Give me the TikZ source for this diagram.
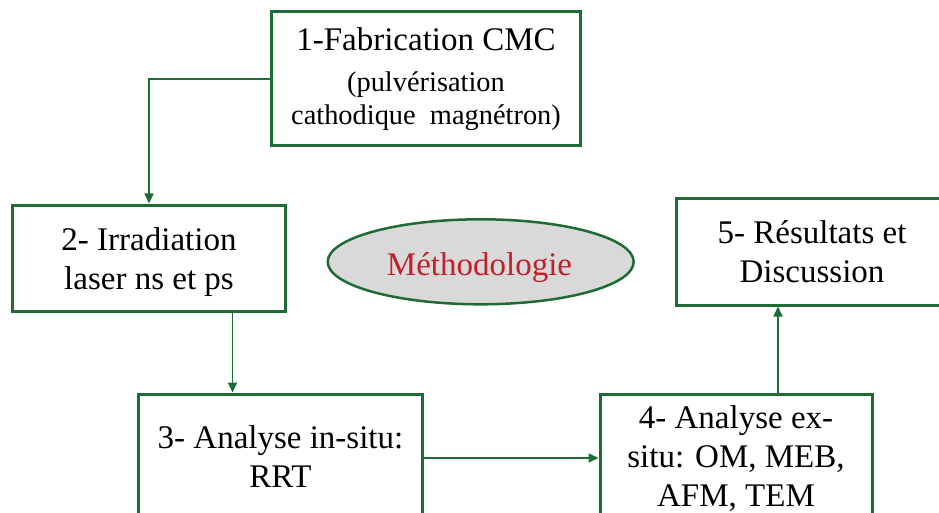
\documentclass[tikz,border=0pt]{standalone}
\usepackage{fontspec}
\setmainfont{Liberation Serif}
\usetikzlibrary{arrows.meta,shapes.geometric}
\definecolor{bgreen}{HTML}{1E6B35}
\definecolor{mred}{HTML}{C0202A}
\definecolor{egray}{HTML}{D9D9D9}
\tikzset{
  stepbox/.style={draw=bgreen, line width=3pt, rectangle, inner sep=0pt, fill=white},
  txt/.style={align=center, inner sep=0pt, anchor=base, font=\fontsize{33}{39}\selectfont},
  arr/.style={draw=bgreen, line width=1.6pt, -{Triangle[length=10pt,width=9pt]}},
}
\begin{document}
\begin{tikzpicture}[x=1pt,y=-1pt]
\useasboundingbox (0,0) rectangle (939,513);
% boxes
\node[stepbox, minimum width=309pt, minimum height=134pt] (b1) at (425.5,79) {};
\node[stepbox, minimum width=273pt, minimum height=106pt] (b2) at (148.5,258) {};
\node[stepbox, minimum width=284pt, minimum height=128pt] (b3) at (280.5,458) {};
\node[stepbox, minimum width=272pt, minimum height=128pt] (b4) at (736,458) {};
\node[stepbox, minimum width=272pt, minimum height=106pt] (b5) at (812,252) {};
\node[ellipse, draw=bgreen, fill=egray, line width=2.5pt, inner sep=0pt,
      minimum width=306pt, minimum height=85pt] (ell) at (480.7,261.8) {};
% texts (anchor = baseline of the last line)
\node[txt, font=\fontsize{33}{33.3}\selectfont] (t1) at (426,125)
  {1-Fabrication CMC\\[7.7pt]{\fontsize{28.4}{33.3}\selectfont (pulvérisation}\\{\fontsize{28.4}{33.3}\selectfont cathodique\ \ magnétron)}};
\node[txt] (t2) at (149,289) {2- Irradiation\\laser ns et ps};
\node[txt] (t3) at (280.5,487) {3- Analyse in-situ:\\RRT};
\node[txt] (t4) at (736,506.5) {4- Analyse ex-\\situ: OM, MEB,\\AFM, TEM};
\node[txt] (t5) at (812,282) {5- Résultats et\\Discussion};
\node[txt, font=\fontsize{33}{39}\selectfont, text=mred] (te) at (479.5,275) {Méthodologie};
% connectors
\coordinate (c12) at (149,79);
\draw[arr] (b1.west) -- (c12) -- (b2.north -| c12);
\draw[arr] ([xshift=84pt]b2.south) -- ([xshift=84pt]b2.south |- b3.north);
\draw[arr] (b3.east) -- (b4.west);
\draw[arr] ([xshift=42pt]b4.north) -- ([xshift=42pt]b4.north |- b5.south);
\end{tikzpicture}
\end{document}
